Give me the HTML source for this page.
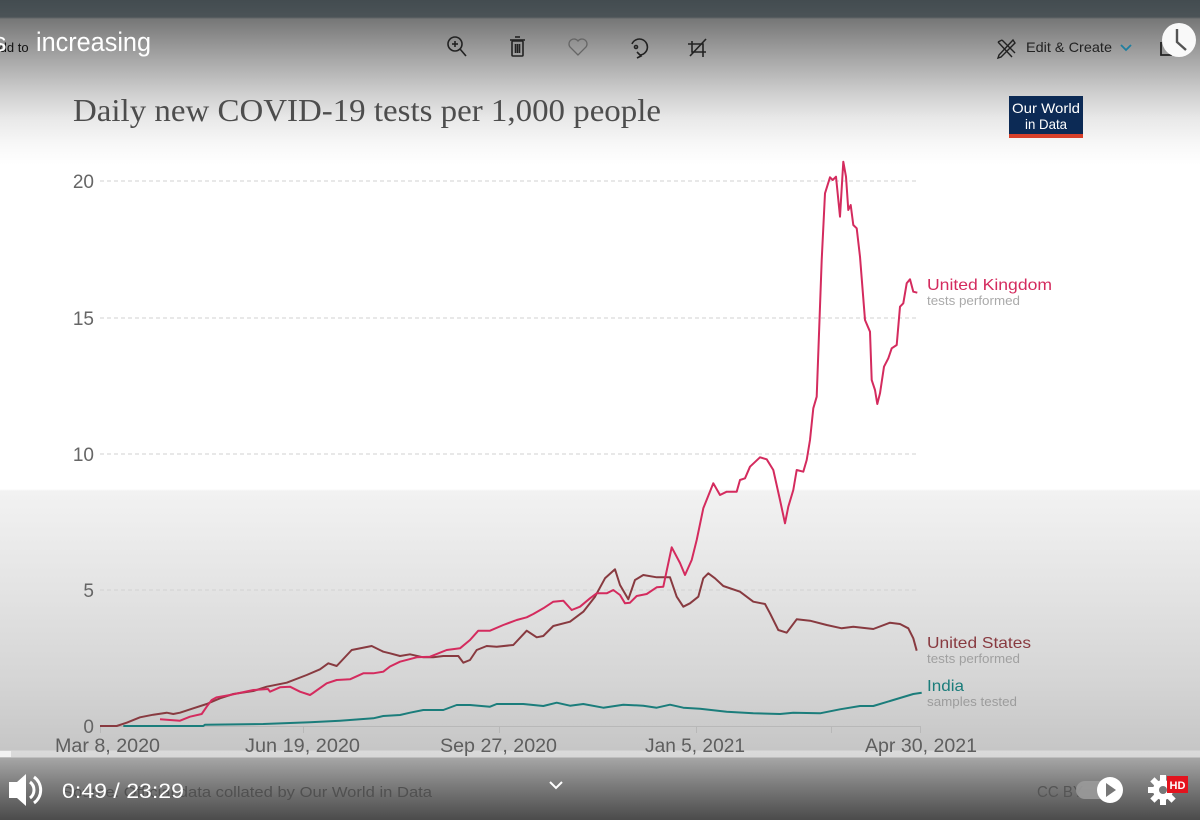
<!DOCTYPE html>
<html>
<head>
<meta charset="utf-8">
<style>
html,body{margin:0;padding:0;}
body{width:1200px;height:820px;overflow:hidden;position:relative;font-family:"Liberation Sans",sans-serif;
background:linear-gradient(to bottom,#434c50 0px,#4b5357 17px,#767777 19px,#8a8a8a 35px,#a8a8a8 60px,#cdcdcd 92px,#e8e8e8 118px,#f8f8f8 145px,#ffffff 165px,#ffffff 489px,#f2f2f2 491px,#e5e5e5 580px,#d5d5d5 680px,#c6c6c6 750px,#dadada 751px,#d8d8d8 757px,#a6a6a6 758px,#7c7c7c 785px,#4b4b4b 820px);}
svg{position:absolute;left:0;top:0;}
</style>
</head>
<body>
<svg width="1200" height="820" viewBox="0 0 1200 820" xmlns="http://www.w3.org/2000/svg">
  <!-- progress bar highlight -->
  <rect x="0" y="751" width="11" height="6" fill="#f2f2f2"/>

  <!-- top overlay texts -->
  <text x="-9" y="52" font-family="Liberation Sans, sans-serif" font-size="13" fill="#111">Add to</text>
  <text x="-7" y="51" font-family="Liberation Sans, sans-serif" font-size="27" fill="#ffffff">s</text>
  <text x="36" y="51" font-family="Liberation Sans, sans-serif" font-size="27" fill="#ffffff" textLength="115" lengthAdjust="spacingAndGlyphs">increasing</text>

  <!-- toolbar icons -->
  <g fill="none" stroke="#222" stroke-width="1.6">
    <circle cx="455" cy="44" r="7"/>
    <line x1="460" y1="49" x2="466" y2="56"/>
    <line x1="452" y1="44" x2="458" y2="44"/>
    <line x1="455" y1="41" x2="455" y2="47"/>
    <rect x="512" y="41" width="11" height="15" rx="1"/>
    <line x1="510" y1="40" x2="525" y2="40"/>
    <line x1="515" y1="37" x2="520" y2="37"/>
    <line x1="515.5" y1="44" x2="515.5" y2="53"/>
    <line x1="517.5" y1="44" x2="517.5" y2="53"/>
    <line x1="519.5" y1="44" x2="519.5" y2="53"/>
    <path d="M578 55 L570 47 A4.5 4.5 0 0 1 578 41 A4.5 4.5 0 0 1 586 47 Z" stroke="#666" stroke-width="1.3"/>
    <path d="M632 44 A8 8 0 1 1 640 55" />
    <path d="M637 52 L641 56 L637 58"/>
    <circle cx="636" cy="47" r="1.5"/>
    <path d="M692 41 L692 52 L706 52"/>
    <path d="M688 44 L703 44 L703 57"/>
    <line x1="690" y1="56" x2="706" y2="39"/>
  </g>

  <!-- Edit & Create -->
  <g fill="none" stroke="#222" stroke-width="1.4">
    <path d="M998 42 L1012 57 M1002 40 L1015 53 M998 42 L1002 40"/>
    <path d="M1013 40 L999 55 L998 58 L1001 57 L1015 43 Z"/>
  </g>
  <text x="1026" y="52" font-family="Liberation Sans, sans-serif" font-size="14" fill="#222" textLength="86" lengthAdjust="spacingAndGlyphs">Edit &amp; Create</text>
  <path d="M1121 45 L1126 50 L1131 45" fill="none" stroke="#1f7fa0" stroke-width="1.8"/>
  <path d="M1161 42 L1161 55 L1172 55" fill="none" stroke="#222" stroke-width="1.8"/>
  <circle cx="1179" cy="40" r="17" fill="#ffffff" opacity="0.95"/>
  <path d="M1177 29 L1177 42 L1186 50" fill="none" stroke="#555" stroke-width="2.4"/>

  <!-- Title -->
  <text x="73" y="121" font-family="Liberation Serif, serif" font-size="32" fill="#4d4d4d" textLength="588" lengthAdjust="spacingAndGlyphs">Daily new COVID-19 tests per 1,000 people</text>

  <!-- Logo -->
  <rect x="1009" y="96" width="74" height="42" fill="#0c2a55"/>
  <rect x="1009" y="134" width="74" height="4" fill="#d8402a"/>
  <text x="1046" y="113" text-anchor="middle" font-family="Liberation Sans, sans-serif" font-size="14" fill="#fff" textLength="68" lengthAdjust="spacingAndGlyphs">Our World</text>
  <text x="1046" y="129" text-anchor="middle" font-family="Liberation Sans, sans-serif" font-size="14" fill="#fff" textLength="42" lengthAdjust="spacingAndGlyphs">in Data</text>

  <!-- Gridlines -->
  <g stroke="#d2d2d2" stroke-width="1" stroke-dasharray="4,3">
    <line x1="100" y1="181" x2="918" y2="181"/>
    <line x1="100" y1="318" x2="918" y2="318"/>
    <line x1="100" y1="454" x2="918" y2="454"/>
    <line x1="100" y1="590" x2="918" y2="590"/>
  </g>
  <!-- x axis -->
  <line x1="100" y1="726.5" x2="921" y2="726.5" stroke="#b8b8b8" stroke-width="1"/>
  <g stroke="#b8b8b8" stroke-width="1">
    <line x1="100.5" y1="726" x2="100.5" y2="733"/>
    <line x1="303.5" y1="726" x2="303.5" y2="733"/>
    <line x1="499.5" y1="726" x2="499.5" y2="733"/>
    <line x1="696.5" y1="726" x2="696.5" y2="733"/>
    <line x1="831.5" y1="726" x2="831.5" y2="733"/>
    <line x1="920.5" y1="726" x2="920.5" y2="733"/>
  </g>

  <!-- y labels -->
  <g font-family="Liberation Sans, sans-serif" font-size="19" fill="#666" text-anchor="end">
    <text x="94" y="188">20</text>
    <text x="94" y="325">15</text>
    <text x="94" y="461">10</text>
    <text x="94" y="597">5</text>
    <text x="94" y="733">0</text>
  </g>
  <!-- x labels -->
  <g font-family="Liberation Sans, sans-serif" font-size="19" fill="#5e5e5e">
    <text x="55" y="752" textLength="105" lengthAdjust="spacingAndGlyphs">Mar 8, 2020</text>
    <text x="245" y="752" textLength="115" lengthAdjust="spacingAndGlyphs">Jun 19, 2020</text>
    <text x="440" y="752" textLength="117" lengthAdjust="spacingAndGlyphs">Sep 27, 2020</text>
    <text x="645" y="752" textLength="100" lengthAdjust="spacingAndGlyphs">Jan 5, 2021</text>
    <text x="865" y="752" textLength="112" lengthAdjust="spacingAndGlyphs">Apr 30, 2021</text>
  </g>

  <!-- India -->
  <polyline fill="none" stroke="#1b7d7b" stroke-width="2" stroke-linejoin="round"
   points="123.3,726 203.3,726 205,724.7 263.3,724 310,722.3 340,720.7 373.3,718.3 383.3,716 400,715 410,712.7 423.3,710 443.3,710 456.7,705 470,705 490,706.7 496.7,704 523.3,704 543.3,706 556.7,702.7 570,705.7 583.3,704 603.3,707.7 623.3,704.7 643.3,705.7 656.7,707.7 670,704.7 683.3,707.7 700,708.7 726.7,711.7 753.3,713.3 780,714 793.3,712.7 820,713.3 840,709.3 860,706 873.3,706 893.3,700 913.3,694 921.7,692.7"/>

  <!-- United States -->
  <polyline fill="none" stroke="#883a40" stroke-width="2" stroke-linejoin="round"
   points="100,726 116.7,726 126.7,722.7 140,717.3 153.3,714.7 166.7,712.7 173.3,714 180,712.7 193.3,708.3 206.7,704 220,698.3 233.3,694 253.3,691 266.7,686.7 286.7,682.7 306.7,675 320,669.3 328.3,663.3 336.7,666 351.7,650 371.7,646 383.3,651.7 390,653.3 400,656 410,654.3 423.3,657.3 433.3,657.3 443.3,656 458.3,656 463.3,662.7 470,660 476.7,650 486.7,646 496.7,646.7 513.3,645 526.7,630.7 536.7,637.3 543.3,636 553.3,626 570,621.7 583.3,611.7 595,596.7 605,578.3 615,569.3 620,585 628.3,599.3 635,580 643.3,575 656.7,577.3 670,577.3 676.7,596.7 683.3,606.7 690,603.3 698.3,596.7 703.3,578.3 708.3,573.3 715,578.3 723.3,586 740,591.7 753.3,601.7 765,604 770,613.3 778.3,630 786.7,632.7 796.7,619.3 810,620.7 826.7,625 841.7,628.3 853.3,626.7 873.3,629 890,622.7 900,624 908.3,628.3 913.3,638.3 916.7,650.7"/>

  <!-- United Kingdom -->
  <polyline fill="none" stroke="#d42b5e" stroke-width="2" stroke-linejoin="round"
   points="160,719.3 180,720.7 190,716.7 201.7,714 206.7,706.7 211.7,700 216.7,697.3 230,695 253.3,690 268,689 270,691.7 280,687.3 290,686.7 300,691.7 310,695 313,693 326.7,683.3 336.7,680 350,679.3 363.3,673.3 373.3,673.3 383.3,671.7 390,666.5 400,661.7 416.7,657.3 430,656.7 446.7,650 460,648.3 470,640 478.3,630.7 490,630.7 503.3,625 516.7,620 526.7,617.3 533.3,614 543.3,608.3 553.3,601.7 563.3,600.7 571.7,610 580,606.7 590,598.3 596.7,593.3 606.7,593.3 613.3,590 620,595 625,603.3 630,602.7 636.7,596 646.7,594 656.7,587.3 663.3,586.7 671.7,547.3 680,563 685,575 691.7,560 696.7,540 703.3,508.3 713.3,483.3 720,495 726.7,491.7 736.7,491.7 740,480 745,478.3 750,466.7 760,457.3 766.7,459.3 773.3,470 780,500 785,523.3 788.3,506.7 793.3,490 796.7,470 803.3,471.7 806.7,460 810,440 813.3,408.3 816.7,396.7 821.7,260 825,193.3 830,177.3 832.7,180 836,176.7 840,216.7 843.3,161.7 846,176.7 848.3,210 850.7,205 853.3,225 856.7,228.3 860,256.7 865,320 870,331.7 871.7,380 875,390 877.3,404 880,393.3 884,366.7 888.3,358.3 891.7,348.3 896.7,345 900,306.7 903.3,303.3 906.7,283.3 910,279.3 913.3,291.7 917.3,292.7"/>

  <!-- Series labels -->
  <g font-family="Liberation Sans, sans-serif">
    <text x="927" y="290" font-size="16" fill="#d42b5e" textLength="125" lengthAdjust="spacingAndGlyphs">United Kingdom</text>
    <text x="927" y="305" font-size="13" fill="#aaaaaa" textLength="93" lengthAdjust="spacingAndGlyphs">tests performed</text>
    <text x="927" y="648" font-size="16" fill="#883a40" textLength="104" lengthAdjust="spacingAndGlyphs">United States</text>
    <text x="927" y="663" font-size="13" fill="#a0a0a0" textLength="93" lengthAdjust="spacingAndGlyphs">tests performed</text>
    <text x="927" y="691" font-size="16" fill="#1b7d7b" textLength="37" lengthAdjust="spacingAndGlyphs">India</text>
    <text x="927" y="706" font-size="13" fill="#9c9c9c" textLength="90" lengthAdjust="spacingAndGlyphs">samples tested</text>
  </g>

  <!-- bottom controls -->
  <text x="62" y="797" font-family="Liberation Sans, sans-serif" font-size="15" fill="#505050" textLength="370" lengthAdjust="spacingAndGlyphs">Source: Official data collated by Our World in Data</text>
  <g fill="#ffffff">
    <path d="M9 782 L17 782 L26 774 L26 806 L17 798 L9 798 Z"/>
  </g>
  <path d="M30 782 A10 10 0 0 1 30 798" fill="none" stroke="#fff" stroke-width="3"/>
  <path d="M34 777 A16 16 0 0 1 34 803" fill="none" stroke="#fff" stroke-width="3"/>
  <text x="62" y="798" font-family="Liberation Sans, sans-serif" font-size="21" fill="#ffffff" textLength="122" lengthAdjust="spacingAndGlyphs">0:49 / 23:29</text>
  <path d="M550 782 L556 788 L562 782" fill="none" stroke="#fff" stroke-width="2"/>

  <text x="1037" y="797" font-family="Liberation Sans, sans-serif" font-size="16" fill="#555" textLength="46" lengthAdjust="spacingAndGlyphs">CC BY</text>
  <rect x="1076" y="781" width="44" height="18" rx="9" fill="#9a9a9a" opacity="0.9"/>
  <circle cx="1110" cy="790" r="13" fill="#ffffff"/>
  <path d="M1106 783 L1116 790 L1106 797 Z" fill="#777"/>
  <!-- gear -->
  <g fill="#ffffff">
    <circle cx="1163" cy="790" r="10"/>
    <rect x="1160" y="775" width="6" height="30"/>
    <rect x="1148" y="787" width="30" height="6"/>
    <rect x="1160" y="775" width="6" height="30" transform="rotate(45 1163 790)"/>
    <rect x="1160" y="775" width="6" height="30" transform="rotate(-45 1163 790)"/>
  </g>
  <circle cx="1163" cy="790" r="4" fill="#777"/>
  <rect x="1167" y="776" width="21" height="17" fill="#e3141e"/>
  <text x="1177.5" y="789" text-anchor="middle" font-family="Liberation Sans, sans-serif" font-size="11" font-weight="bold" fill="#fff">HD</text>
</svg>
</body>
</html>
